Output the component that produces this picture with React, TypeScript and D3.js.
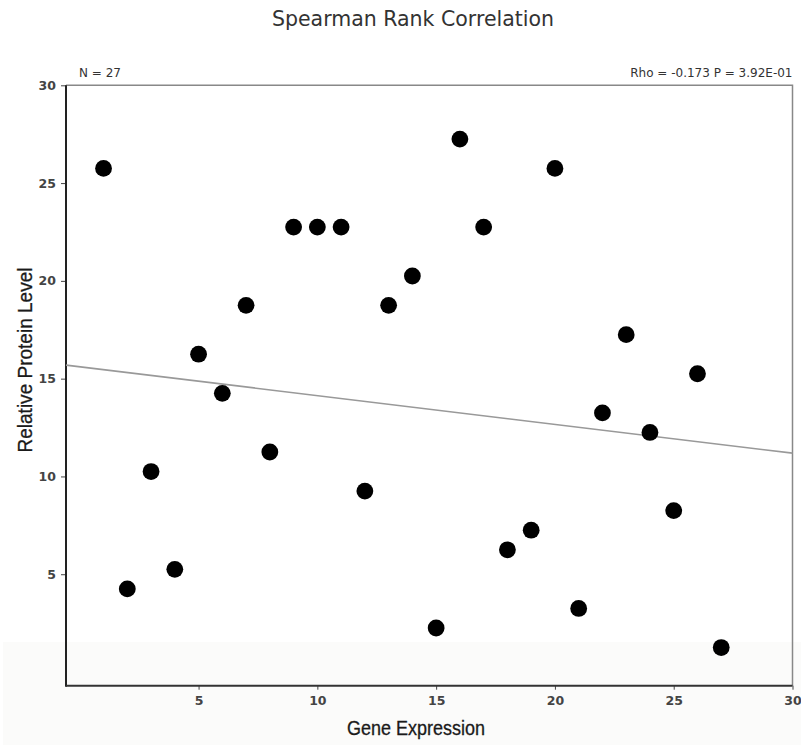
import React, { useEffect, useRef } from "react";
import * as d3 from "d3";

// gene expression ranks (x) and protein level ranks (y)
const geneRank = [1, 2, 3, 4, 5, 6, 7, 8, 9, 10, 11, 12, 13, 14, 15, 16, 17, 18, 19, 20, 21, 22, 23, 24, 25, 26, 27];
const proteinRank = [25.75, 4.25, 10.25, 5.25, 16.25, 14.25, 18.75, 11.25, 22.75, 22.75, 22.75, 9.25, 18.75, 20.25, 2.25, 27.25, 22.75, 6.25, 7.25, 25.75, 3.25, 13.25, 17.25, 12.25, 8.25, 15.25, 1.25];
const xTicks = [5, 10, 15, 20, 25, 30];
const yTicks = [5, 10, 15, 20, 25, 30];
// fitted line end points
const fitX = [-0.58, 30];
const fitY = [15.69, 11.19];

const size = { width: 801, height: 745 };
const plot = { left: 66, right: 792.5, top: 85.3, bottom: 685.7 };

export default function App() {
  const ref = useRef<SVGSVGElement>(null);

  useEffect(() => {
    const svg = d3.select(ref.current);
    svg.selectAll("*").remove();

    const x = d3.scaleLinear().domain([-0.58, 30]).range([plot.left, plot.right]);
    const y = d3.scaleLinear().domain([-0.7, 30]).range([plot.bottom, plot.top]);

    // faint scan-like band at the bottom
    svg.append("rect")
      .attr("x", 3).attr("y", 642)
      .attr("width", size.width - 3).attr("height", size.height - 642)
      .attr("fill", "#fbfbfa");

    svg.append("text")
      .attr("x", 413).attr("y", 26)
      .attr("text-anchor", "middle")
      .attr("font-family", "DejaVu Sans, Verdana, sans-serif")
      .attr("font-size", 20.5)
      .attr("fill", "#333")
      .text("Spearman Rank Correlation");

    const small = "DejaVu Sans, Verdana, sans-serif";
    svg.append("text")
      .attr("x", 79).attr("y", 77)
      .attr("font-family", small).attr("font-size", 12).attr("fill", "#333")
      .text("N = 27");
    svg.append("text")
      .attr("x", plot.right).attr("y", 77)
      .attr("text-anchor", "end")
      .attr("font-family", small).attr("font-size", 12).attr("fill", "#333")
      .text("Rho = -0.173 P = 3.92E-01");

    // top & right frame
    svg.append("path")
      .attr("d", `M${plot.left},${plot.top}H${plot.right}V${plot.bottom}`)
      .attr("fill", "none").attr("stroke", "#888").attr("stroke-width", 1.5);

    const yAxis = (g) => {
      g.attr("transform", `translate(${plot.left},0)`)
        .call(d3.axisLeft(y).tickValues(yTicks).tickSize(5).tickPadding(5))
        .call((g) => g.select(".domain").remove())
        .attr("font-family", small)
        .attr("font-size", 12.5)
        .attr("font-weight", "bold");
      g.selectAll(".tick line").attr("stroke", "#444");
      g.selectAll(".tick text").attr("fill", "#444");
    };
    const xAxis = (g) => {
      g.attr("transform", `translate(0,${plot.bottom})`)
        .call(d3.axisBottom(x).tickValues(xTicks).tickSize(4).tickPadding(6))
        .call((g) => g.select(".domain").remove())
        .attr("font-family", small)
        .attr("font-size", 12.5)
        .attr("font-weight", "bold");
      g.selectAll(".tick line").attr("stroke", "#444");
      g.selectAll(".tick text").attr("fill", "#444");
    };
    svg.append("g").call(yAxis);
    svg.append("g").call(xAxis);

    // axis lines
    svg.append("line")
      .attr("x1", plot.left).attr("x2", plot.left)
      .attr("y1", plot.top).attr("y2", plot.bottom + 1)
      .attr("stroke", "#222").attr("stroke-width", 2);
    svg.append("line")
      .attr("x1", plot.left).attr("x2", plot.right)
      .attr("y1", plot.bottom).attr("y2", plot.bottom)
      .attr("stroke", "#333").attr("stroke-width", 2);

    // regression line
    const line = d3.line<number>()
      .x((d, i) => x(d))
      .y((d, i) => y(fitY[i]));
    svg.append("path")
      .attr("d", line(fitX))
      .attr("fill", "none")
      .attr("stroke", "#999")
      .attr("stroke-width", 1.6);

    svg.append("g")
      .selectAll("circle")
      .data(geneRank)
      .join("circle")
      .attr("cx", (d) => x(d))
      .attr("cy", (d, i) => y(proteinRank[i]))
      .attr("r", 8.4)
      .attr("fill", "#000");

    // narrow-looking axis titles (squeezed Liberation Sans)
    const label = "'Liberation Sans Narrow', 'Arial Narrow', 'Liberation Sans', Arial, sans-serif";
    svg.append("text")
      .attr("x", 416).attr("y", 735)
      .attr("text-anchor", "middle")
      .attr("font-family", label).attr("font-size", 20).attr("fill", "#1a1a1a")
      .attr("stroke", "#1a1a1a").attr("stroke-width", 0.3)
      .attr("textLength", 138).attr("lengthAdjust", "spacingAndGlyphs")
      .text("Gene Expression");
    svg.append("text")
      .attr("transform", "translate(32,360) rotate(-90)")
      .attr("text-anchor", "middle")
      .attr("font-family", label).attr("font-size", 20.5).attr("fill", "#1a1a1a")
      .attr("stroke", "#1a1a1a").attr("stroke-width", 0.3)
      .attr("textLength", 185).attr("lengthAdjust", "spacingAndGlyphs")
      .text("Relative Protein Level");
  }, []);

  return (
    <svg
      ref={ref}
      width={size.width}
      height={size.height}
      style={{ position: "absolute", left: 0, top: 0, background: "#fff" }}
    ></svg>
  );
}
